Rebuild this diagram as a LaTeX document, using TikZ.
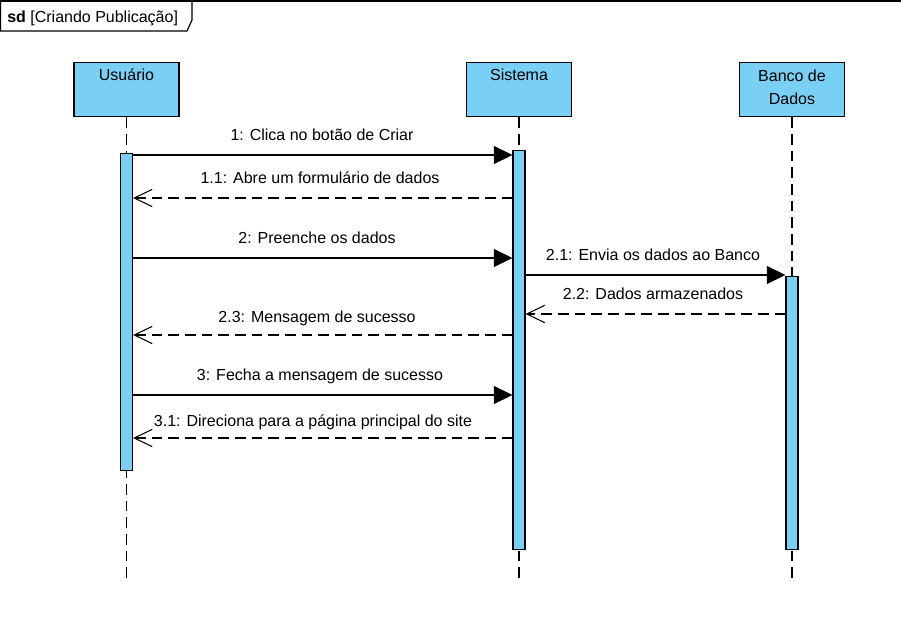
\documentclass[tikz,border=0pt]{standalone}
\usepackage{fontspec}
\setmainfont{Liberation Sans}
\usetikzlibrary{arrows.meta}
\definecolor{lifeblue}{RGB}{122,207,245}

\tikzset{
  participant/.style={draw, line width=0.9pt, fill=lifeblue, minimum width=78.75pt, minimum height=40.5pt, inner sep=0pt, anchor=north},
  actbar/.style={draw, line width=0.8pt, fill=lifeblue, minimum width=9pt, inner sep=0pt, anchor=north},
  lifeline/.style={line width=0.8pt, dash pattern=on 8pt off 4.5pt},
  callmsg/.style={line width=0.8pt, -{Triangle[length=14pt,width=13.5pt]}},
  replymsg/.style={line width=0.8pt, dash pattern=on 8pt off 4.5pt, -{Straight Barb[length=13.5pt,width=13pt]}},
  msgtext/.style={anchor=base, inner sep=0pt, font=\fontsize{12}{14}\selectfont},
}

\begin{document}
\begin{tikzpicture}[x=0.75pt,y=0.75pt,yscale=-1,xscale=1]
    \useasboundingbox (0,0) rectangle (901,627);

    %Shape: Frame
    \draw [line width=1pt] (0,1) -- (901,1) ;
    \draw [line width=0.9pt] (0.5,1) -- (192,1) -- (192,20) -- (187,31) -- (0.5,31) -- cycle ;
    % Text Node
    \node [msgtext, anchor=base west] (frameLbl) at (7,23) {\textbf{sd} [Criando Publicação]};

    %Shape: Participants
    \node [participant] (usr) at (126.5,62) {};
    \node [participant] (sis) at (519,62) {};
    \node [participant] (bd) at (792,62) {};
    % Text Node
    \node [msgtext] (usrLbl) at (126.5,81) {Usuário};
    \node [msgtext] (sisLbl) at (519,81) {Sistema};
    \node [msgtext, anchor=north, align=center, font=\fontsize{12}{17.25}\selectfont] (bdLbl) at (792,69.5) {Banco de\\Dados};

    %Shape: Lifelines
    \draw [lifeline] (usr.south) -- (usr.south |- 0,578) ;
    \draw [lifeline] (sis.south) -- (sis.south |- 0,578) ;
    \draw [lifeline] (bd.south) -- (bd.south |- 0,578) ;

    %Shape: Activation bars
    \node [actbar, minimum height=237.75pt] (usrBar) at (126.5,153) {};
    \node [actbar, minimum height=299.25pt] (sisBar) at (519,150) {};
    \node [actbar, minimum height=204.75pt] (bdBar) at (792,276) {};

    %Messages
    \draw [callmsg] (usrBar.east |- 0,155) -- (sisBar.west |- 0,155) ;
    \node [msgtext] (m1) at (322,141) {1: Clica no botão de Criar};
    \draw [replymsg] (sisBar.west |- 0,198) -- (usrBar.east |- 0,198) ;
    \node [msgtext] (m11) at (320,184) {1.1: Abre um formulário de dados};
    \draw [callmsg] (usrBar.east |- 0,258) -- (sisBar.west |- 0,258) ;
    \node [msgtext] (m2) at (317,244) {2: Preenche os dados};
    \draw [callmsg] (sisBar.east |- 0,275) -- (bdBar.west |- 0,275) ;
    \node [msgtext] (m21) at (653,261) {2.1: Envia os dados ao Banco};
    \draw [replymsg] (bdBar.west |- 0,314) -- (sisBar.east |- 0,314) ;
    \node [msgtext] (m22) at (653,300) {2.2: Dados armazenados};
    \draw [replymsg] (sisBar.west |- 0,335) -- (usrBar.east |- 0,335) ;
    \node [msgtext] (m23) at (317,323) {2.3: Mensagem de sucesso};
    \draw [callmsg] (usrBar.east |- 0,395) -- (sisBar.west |- 0,395) ;
    \node [msgtext] (m3) at (320,381) {3: Fecha a mensagem de sucesso};
    \draw [replymsg] (sisBar.west |- 0,438) -- (usrBar.east |- 0,438) ;
    \node [msgtext] (m31) at (313,426.5) {3.1: Direciona para a página principal do site};

\end{tikzpicture}
\end{document}
